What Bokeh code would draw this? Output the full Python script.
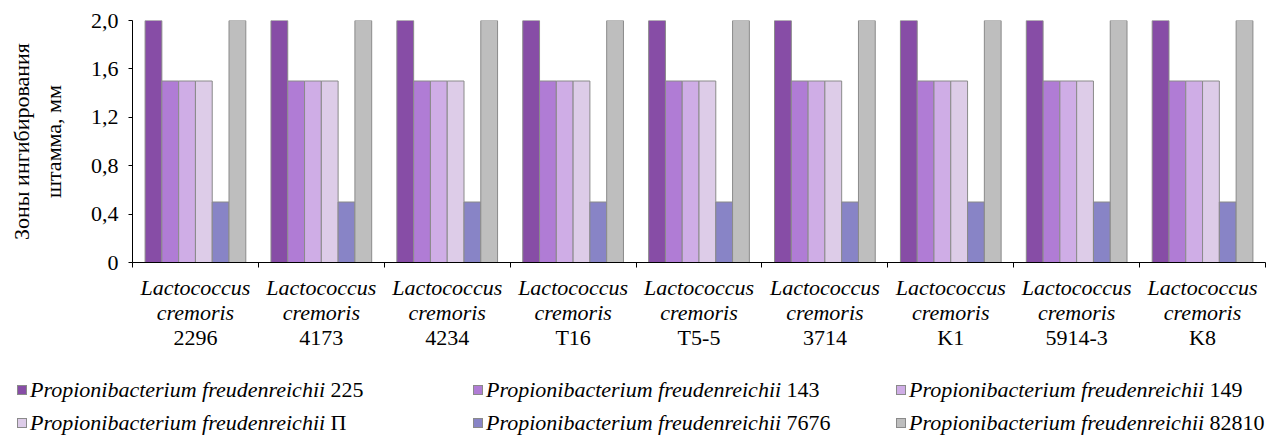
from bokeh.plotting import figure
from bokeh.models import ColumnDataSource, Range1d, FixedTicker, Div
from bokeh.transform import dodge
from bokeh.layouts import column
from bokeh.embed import file_html
from bokeh.resources import INLINE
from bokeh.core.properties import value

# ---------------- data ----------------
strains = ["2296", "4173", "4234", "T16", "T5-5", "3714", "K1", "5914-3", "K8"]
genus = "Lactococcus"
species = "cremoris"

series_species = "Propionibacterium freudenreichii"
series_names = ["225", "143", "149", "П", "7676", "82810"]

pf_225 = [2.0, 2.0, 2.0, 2.0, 2.0, 2.0, 2.0, 2.0, 2.0]
pf_143 = [1.5, 1.5, 1.5, 1.5, 1.5, 1.5, 1.5, 1.5, 1.5]
pf_149 = [1.5, 1.5, 1.5, 1.5, 1.5, 1.5, 1.5, 1.5, 1.5]
pf_P = [1.5, 1.5, 1.5, 1.5, 1.5, 1.5, 1.5, 1.5, 1.5]
pf_7676 = [0.5, 0.5, 0.5, 0.5, 0.5, 0.5, 0.5, 0.5, 0.5]
pf_82810 = [2.0, 2.0, 2.0, 2.0, 2.0, 2.0, 2.0, 2.0, 2.0]

y_ticks = [0, 0.4, 0.8, 1.2, 1.6, 2.0]
y_tick_labels = ["0", "0,4", "0,8", "1,2", "1,6", "2,0"]
y_title = "Зоны ингибирования\nштамма, мм"

# ---------------- styles ----------------
colors = ["#874DA6", "#B07CD5", "#CFADE6", "#DDCCE8", "#8884C6", "#BEBEBE"]
edge = "#8a8a8a"
FONT = "'Liberation Serif', 'Times New Roman', serif"
FS = "22px"

series_values = [pf_225, pf_143, pf_149, pf_P, pf_7676, pf_82810]
n_cat = len(strains)
n_ser = len(series_names)
group_w = 0.8
bar_w = group_w / n_ser

data = {"xc": [i + 0.5 for i in range(n_cat)],
        "l1": [genus] * n_cat, "l2": [species] * n_cat, "l3": strains}
for k, vals in enumerate(series_values):
    data[f"s{k}"] = vals
src = ColumnDataSource(data)

W = 1282
FL, FR = 132, 17          # frame left / right borders
H1 = 276                  # chart
H2 = 79                   # category labels
H3 = 439 - H1 - H2        # legend

xr = Range1d(0, n_cat)
p = figure(width=W, height=H1, x_range=xr, y_range=Range1d(0, 2.0),
           output_backend="svg", toolbar_location=None,
           min_border_left=FL, min_border_right=FR, min_border_top=20,
           min_border_bottom=H1 - 20 - 242)
p.xgrid.visible = False
p.ygrid.visible = False
p.outline_line_color = None

for k in range(n_ser):
    off = -group_w / 2 + bar_w * (k + 0.5)
    p.vbar(x=dodge("xc", off), top=f"s{k}", width=bar_w, source=src,
           fill_color=colors[k], line_color=edge, line_width=1)

# y axis
ya = p.yaxis[0]
ya.ticker = FixedTicker(ticks=y_ticks)
ya.major_label_overrides = dict(zip(y_ticks, y_tick_labels))
ya.major_label_text_font = FONT
ya.major_label_text_font_size = FS
ya.major_label_text_color = "black"
ya.major_label_standoff = 10
ya.major_tick_in = 0
ya.major_tick_out = 4
ya.minor_tick_in = 0
ya.minor_tick_out = 0
ya.axis_line_color = "black"
ya.major_tick_line_color = "black"
ya.axis_label = y_title
ya.axis_label_text_font = FONT
ya.axis_label_text_font_size = FS
ya.axis_label_text_font_style = "normal"
ya.axis_label_text_color = "black"
ya.axis_label_text_line_height = 1.27
ya.axis_label_standoff = 22

# x axis (ticks at category boundaries, labels drawn below)
xa = p.xaxis[0]
x_ticks = list(range(n_cat + 1))
xa.ticker = FixedTicker(ticks=x_ticks)
xa.major_label_overrides = {t: "" for t in x_ticks}
xa.major_tick_in = 0
xa.major_tick_out = 5
xa.minor_tick_in = 0
xa.minor_tick_out = 0
xa.axis_line_color = "black"
xa.major_tick_line_color = "black"

# ---------------- category labels ----------------
pl = figure(width=W, height=H2, x_range=xr, y_range=Range1d(H2, 0),
            output_backend="svg", toolbar_location=None,
            min_border_left=FL, min_border_right=FR, min_border_top=0, min_border_bottom=0,
            x_axis_location=None, y_axis_location=None)
pl.xgrid.visible = False
pl.ygrid.visible = False
pl.outline_line_color = None
for field, yy, style in [("l1", 11, "italic"), ("l2", 36, "italic"), ("l3", 61, "normal")]:
    pl.text(x="xc", y=yy, text=field, source=src, text_align="center", text_baseline="middle",
            text_font=value(FONT), text_font_size=FS, text_font_style=style, text_color="black")

# ---------------- legend (HTML) ----------------
col_x = [17, 473, 896]
row_top = [24, 57]
items = []
for i, name in enumerate(series_names):
    c, r = i % 3, i // 3
    items.append(
        f'<div style="position:absolute;left:{col_x[c]}px;top:{row_top[r]}px;'
        f'height:22px;line-height:22px;white-space:nowrap;">'
        f'<span style="display:inline-block;width:10px;height:10px;background:{colors[i]};'
        f'border:1px solid {edge};vertical-align:middle;margin-right:3px;position:relative;top:-2px;"></span>'
        f'<i>{series_species}</i> {name}</div>'
    )
html = (f'<div style="position:relative;width:{W}px;height:{H3}px;font-family:{FONT};'
        f'font-size:{FS};color:black;">' + "".join(items) + "</div>")
legend_div = Div(text=html, width=W, height=H3, margin=0)

layout = column(p, pl, legend_div, spacing=0)
open("out.html", "w").write(file_html(layout, INLINE))
